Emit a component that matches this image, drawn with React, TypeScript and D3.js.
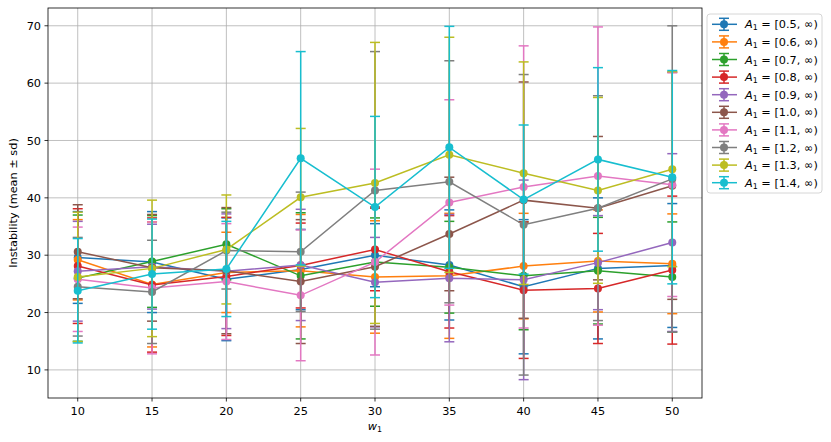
import React from 'react';
import * as d3 from 'd3';

// w1 values on the x axis
const wValues = [10, 15, 20, 25, 30, 35, 40, 45, 50];
const thresholds = ['0.5', '0.6', '0.7', '0.8', '0.9', '1.0', '1.1', '1.2', '1.3', '1.4'];
const palette = ['#1f77b4', '#ff7f0e', '#2ca02c', '#d62728', '#9467bd', '#8c564b', '#e377c2', '#7f7f7f', '#bcbd22', '#17becf'];

const mean05 = [29.6, 28.8, 25.8, 27.5, 30.0, 28.3, 24.5, 27.7, 28.2];
const sd05 = [8.0, 8.8, 10.7, 7.0, 5.5, 9.6, 11.7, 12.3, 10.8];
const mean06 = [29.2, 24.9, 27.0, 27.3, 26.2, 26.4, 28.1, 29.0, 28.5];
const sd06 = [7.0, 10.9, 7.0, 9.8, 9.8, 10.9, 9.2, 8.9, 8.7];
const mean07 = [26.0, 28.9, 31.9, 26.4, 28.8, 27.9, 26.4, 27.3, 26.2];
const sd07 = [11.0, 8.0, 6.2, 11.0, 7.7, 8.0, 9.4, 9.3, 9.6];
const mean08 = [28.1, 24.8, 26.3, 28.2, 31.0, 27.1, 23.9, 24.2, 27.4];
const sd08 = [10.0, 11.7, 10.3, 7.4, 7.2, 9.8, 11.9, 9.6, 12.9];
const mean09 = [27.2, 28.0, 27.2, 28.3, 25.3, 26.0, 25.7, 28.7, 32.2];
const sd09 = [8.7, 7.4, 10.0, 9.7, 7.8, 11.1, 17.4, 8.2, 15.5];
const mean10 = [30.6, 27.8, 27.3, 25.4, 28.0, 33.7, 39.6, 38.2, 42.1];
const sd10 = [8.2, 9.3, 11.0, 10.8, 10.4, 9.9, 20.6, 12.5, 19.8];
const mean11 = [25.8, 24.3, 25.4, 23.0, 28.8, 39.2, 41.9, 43.8, 42.3];
const sd11 = [9.1, 11.5, 10.1, 11.4, 16.2, 17.9, 24.6, 26.0, 19.5];
const mean12 = [24.5, 23.6, 30.8, 30.6, 41.3, 42.8, 35.3, 38.2, 43.3];
const sd12 = [8.6, 9.0, 6.7, 10.4, 24.2, 21.1, 26.2, 19.6, 26.7];
const mean13 = [26.2, 27.7, 31.0, 40.1, 42.6, 47.5, 44.3, 41.3, 45.0];
const sd13 = [11.3, 11.9, 9.5, 12.0, 24.5, 20.5, 19.4, 16.2, 17.0];
const mean14 = [23.8, 26.7, 27.6, 46.9, 38.4, 48.8, 39.7, 46.7, 43.6];
const sd14 = [9.1, 9.6, 8.3, 18.6, 15.8, 21.1, 13.0, 16.0, 18.6];

const allMeans = [mean05, mean06, mean07, mean08, mean09, mean10, mean11, mean12, mean13, mean14];
const allSds = [sd05, sd06, sd07, sd08, sd09, sd10, sd11, sd12, sd13, sd14];

const xTicks = [10, 15, 20, 25, 30, 35, 40, 45, 50];
const yTicks = [10, 20, 30, 40, 50, 60, 70];

const W = 831;
const H = 442;
const m = { left: 48, right: 702, top: 8, bottom: 398 };
const font = 'DejaVu Sans, sans-serif';
const fs = 11.3;

const App: React.FC = () => {
  const x = d3.scaleLinear().domain([8, 52]).range([m.left, m.right]);
  const y = d3.scaleLinear().domain([5.1, 73.1]).range([m.bottom, m.top]);
  const line = d3.line<number>().x((_, i) => x(wValues[i])).y(d => y(d));
  const cap = 5;

  const series = thresholds.map((t, k) => ({
    label: t,
    color: palette[k],
    means: allMeans[k],
    sds: allSds[k],
  }));

  const legendX = 707;
  const legendY = 14;
  const rowH = 17.6;

  return (
    <svg width={W} height={H} style={{ position: 'absolute', left: 0, top: 0, background: '#fff' }} fontFamily={font}>
      <defs>
        <clipPath id="plot">
          <rect x={m.left} y={m.top} width={m.right - m.left} height={m.bottom - m.top} />
        </clipPath>
      </defs>
      {/* grid */}
      <g stroke="#b0b0b0" strokeWidth={0.8}>
        {xTicks.map(t => (
          <line key={'gx' + t} x1={x(t)} x2={x(t)} y1={m.top} y2={m.bottom} />
        ))}
        {yTicks.map(t => (
          <line key={'gy' + t} x1={m.left} x2={m.right} y1={y(t)} y2={y(t)} />
        ))}
      </g>

      <g clipPath="url(#plot)">
        {series.map(s => (
          <g key={s.label}>
            <g stroke={s.color} strokeWidth={1.5}>
              {s.means.map((v, i) => {
                const cx = x(wValues[i]);
                const lo = y(v - s.sds[i]);
                const hi = y(v + s.sds[i]);
                return (
                  <g key={i}>
                    <line x1={cx} x2={cx} y1={lo} y2={hi} />
                    <line x1={cx - cap} x2={cx + cap} y1={lo} y2={lo} />
                    <line x1={cx - cap} x2={cx + cap} y1={hi} y2={hi} />
                  </g>
                );
              })}
            </g>
            <path d={line(s.means) || ''} fill="none" stroke={s.color} strokeWidth={1.5} />
            {s.means.map((v, i) => (
              <circle key={i} cx={x(wValues[i])} cy={y(v)} r={4} fill={s.color} />
            ))}
          </g>
        ))}
      </g>

      {/* spines */}
      <rect x={m.left} y={m.top} width={m.right - m.left} height={m.bottom - m.top} fill="none" stroke="#000" strokeWidth={0.8} />

      {/* x axis */}
      {xTicks.map(t => (
        <g key={'xt' + t}>
          <line x1={x(t)} x2={x(t)} y1={m.bottom} y2={m.bottom + 3.5} stroke="#000" strokeWidth={0.8} />
          <text x={x(t)} y={m.bottom + 17} textAnchor="middle" fontSize={fs}>{t}</text>
        </g>
      ))}
      <text x={(m.left + m.right) / 2} y={430} textAnchor="middle" fontSize={fs} fontStyle="italic">
        w<tspan fontSize={fs * 0.7} dy={2} fontStyle="normal">1</tspan>
      </text>

      {/* y axis */}
      {yTicks.map(t => (
        <g key={'yt' + t}>
          <line x1={m.left - 3.5} x2={m.left} y1={y(t)} y2={y(t)} stroke="#000" strokeWidth={0.8} />
          <text x={m.left - 7} y={y(t) + 4.1} textAnchor="end" fontSize={fs}>{t}</text>
        </g>
      ))}
      <text transform={`translate(17, ${(m.top + m.bottom) / 2}) rotate(-90)`} textAnchor="middle" fontSize={fs}>
        Instability (mean ± sd)
      </text>

      {/* legend */}
      <rect x={legendX} y={legendY} width={115} height={179} rx={3} fill="#fff" fillOpacity={0.8} stroke="#cccccc" strokeWidth={0.8} />
      {series.map((s, k) => {
        const cy = legendY + 10.3 + k * rowH;
        const hx = 724;
        return (
          <g key={'lg' + s.label}>
            <line x1={712} x2={737} y1={cy} y2={cy} stroke={s.color} strokeWidth={1.5} />
            <line x1={hx} x2={hx} y1={cy - 6} y2={cy + 6} stroke={s.color} strokeWidth={1.5} />
            <line x1={hx - cap} x2={hx + cap} y1={cy - 6} y2={cy - 6} stroke={s.color} strokeWidth={1.5} />
            <line x1={hx - cap} x2={hx + cap} y1={cy + 6} y2={cy + 6} stroke={s.color} strokeWidth={1.5} />
            <circle cx={hx} cy={cy} r={4} fill={s.color} />
            <text x={745} y={cy + 4} fontSize={fs}>
              <tspan fontStyle="italic">A</tspan>
              <tspan fontSize={fs * 0.7} dy={2}>1</tspan>
              <tspan dy={-2}>{` = [${s.label}, ∞)`}</tspan>
            </text>
          </g>
        );
      })}
    </svg>
  );
};

export default App;
